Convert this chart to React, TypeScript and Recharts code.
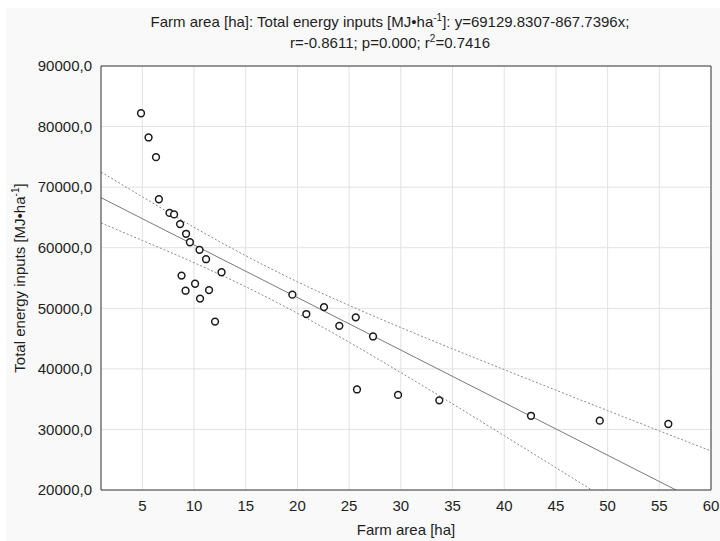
import React from 'react';
import { ComposedChart, Scatter, Line, XAxis, YAxis, CartesianGrid } from 'recharts';

// observed points
const farmArea = [
  4.87, 5.6, 6.32, 6.6, 7.63, 8.07, 8.65, 9.23, 9.6, 10.53, 11.16, 12.66, 8.79, 10.1, 9.18,
  11.45, 10.58, 12.03, 19.51, 20.86, 22.57, 24.05, 25.64, 27.31, 25.76, 29.73, 33.72, 42.59,
  49.24, 55.87,
];
const energyInputs = [
  82200, 78200, 74950, 68000, 65750, 65500, 63900, 62300, 60900, 59650, 58100, 55950, 55400,
  54050, 52900, 53000, 51600, 47800, 52250, 49050, 50200, 47100, 48500, 45350, 36600, 35700,
  34800, 32250, 31450, 30900,
];

// fitted line and 95% confidence band
const fitX = [1, 60];
const fitY = [68262, 17065];
const bandX = [1, 5, 10, 15, 20, 25, 30, 35, 40, 45, 50, 55, 60];
const upperBand = [72500, 68400, 63370, 58670, 54375, 50470, 46820, 43300, 39870, 36480, 33110, 29770, 26435];
const lowerBand = [64100, 61200, 57530, 53560, 49175, 44400, 39380, 34220, 28970, 23680, 18370, 13030, 7695];

const xTicks = [5, 10, 15, 20, 25, 30, 35, 40, 45, 50, 55, 60];
const yTicks = [20000, 30000, 40000, 50000, 60000, 70000, 80000, 90000];
const xMinor = Array.from({ length: 59 }, (_, i) => i + 2);
const yMinor = Array.from({ length: 27 }, (_, i) => 22500 + i * 2500);

const points = farmArea.map((x, i) => ({ x, y: energyInputs[i] }));
const fitData = fitX.map((x, i) => ({ x, y: fitY[i] }));
const upperData = bandX.map((x, i) => ({ x, y: upperBand[i] }));
const lowerData = bandX.map((x, i) => ({ x, y: lowerBand[i] }));

const FONT = '"Liberation Sans", Arial, sans-serif';
const FRAME = '#3a3a3a';
const tickStyle = { fontSize: 15, fill: '#1e1e1e', fontFamily: FONT };
const noLabel = () => <g />;

const Ring = (props: any) => (
  <circle cx={props.cx} cy={props.cy} r={3.4} fill="#fff" stroke="#1a1a1a" strokeWidth={1.5} />
);

const App: React.FC = () => {
  return (
    <div style={{ position: 'fixed', left: 0, top: 0, width: 720, height: 541, background: '#fff', fontFamily: FONT }}>
      <div style={{ position: 'absolute', left: 6, top: 8, right: 0, bottom: 0, background: '#f9f9f9' }} />
      <div
        style={{
          position: 'absolute', left: 0, width: 780, top: 11, textAlign: 'center',
          fontSize: 15, lineHeight: '21px', color: '#1e1e1e',
        }}
      >
        Farm area [ha]: Total energy inputs [MJ•ha<sup style={{ fontSize: 10, lineHeight: 0 }}>-1</sup>]: y=69129.8307-867.7396x;
        <br />
        r=-0.8611; p=0.000; r<sup style={{ fontSize: 10, lineHeight: 0 }}>2</sup>=0.7416
      </div>
      <div style={{ position: 'absolute', left: 0, top: 0 }}>
        <ComposedChart width={720} height={541} margin={{ top: 66, right: 9, bottom: 21, left: 8 }}>
          <CartesianGrid stroke="#e2e2e2" fill="#fff" />
          <XAxis
            type="number" dataKey="x" domain={[1, 60]} ticks={xTicks} allowDataOverflow
            height={30} tickLine={false} tickSize={0} tickMargin={10}
            axisLine={{ stroke: FRAME }} tick={tickStyle}
          />
          <YAxis
            type="number" dataKey="y" domain={[20000, 90000]} ticks={yTicks} allowDataOverflow
            width={93} tickLine={false} tickSize={0} tickMargin={9}
            axisLine={{ stroke: FRAME }} tick={tickStyle}
            tickFormatter={(v: number) => `${v},0`}
          />
          <XAxis xAxisId="bm" type="number" dataKey="x" domain={[1, 60]} ticks={xMinor} mirror
            orientation="bottom" tick={noLabel} tickSize={3} axisLine={false} tickLine={{ stroke: FRAME }} />
          <XAxis xAxisId="tm" type="number" dataKey="x" domain={[1, 60]} ticks={xMinor} mirror
            orientation="top" tick={noLabel} tickSize={3} axisLine={{ stroke: FRAME }} tickLine={{ stroke: FRAME }} />
          <YAxis yAxisId="lm" type="number" dataKey="y" domain={[20000, 90000]} ticks={yMinor} mirror
            orientation="left" tick={noLabel} tickSize={3} axisLine={false} tickLine={{ stroke: FRAME }} />
          <YAxis yAxisId="rm" type="number" dataKey="y" domain={[20000, 90000]} ticks={yMinor} mirror
            orientation="right" tick={noLabel} tickSize={3} axisLine={{ stroke: FRAME }} tickLine={{ stroke: FRAME }} />
          <Line data={upperData} dataKey="y" type="monotone" stroke="#8a8a8a" strokeWidth={1}
            strokeDasharray="2 2" dot={false} activeDot={false} isAnimationActive={false} />
          <Line data={lowerData} dataKey="y" type="monotone" stroke="#8a8a8a" strokeWidth={1}
            strokeDasharray="2 2" dot={false} activeDot={false} isAnimationActive={false} />
          <Line data={fitData} dataKey="y" type="linear" stroke="#7a7a7a" strokeWidth={1}
            dot={false} activeDot={false} isAnimationActive={false} />
          <Scatter data={points} dataKey="y" shape={Ring} isAnimationActive={false} />
        </ComposedChart>
      </div>
      <div style={{ position: 'absolute', left: 101, width: 610, top: 521, textAlign: 'center', fontSize: 15, color: '#1e1e1e' }}>
        Farm area [ha]
      </div>
      <div
        style={{
          position: 'absolute', left: 20, top: 278, width: 300, marginLeft: -150, marginTop: -10,
          textAlign: 'center', fontSize: 15, lineHeight: '20px', color: '#1e1e1e',
          transform: 'rotate(-90deg)',
        }}
      >
        Total energy inputs [MJ•ha<sup style={{ fontSize: 10, lineHeight: 0 }}>-1</sup>]
      </div>
    </div>
  );
};

export default App;
